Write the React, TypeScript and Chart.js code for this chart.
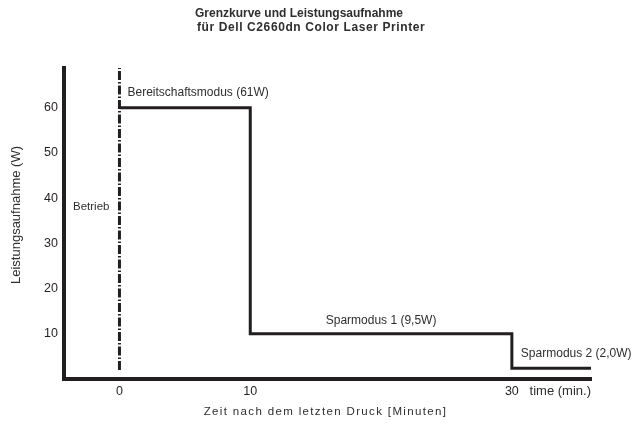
import React, { useEffect, useRef } from "react";
import { Chart, registerables } from "chart.js";

Chart.register(...registerables);

// ---- data ----
const modeStartMinutes = [0, 10, 30];
const modePowerWatts = [60, 10, 2.4];
const curveEndMinute = 36.05;
const operationMinute = 0;
const operationPowerRange = [2, 68.8];
const xTickValues = [0, 10, 30];
const yTickValues = [10, 20, 30, 40, 50, 60];
const xRange = [-4.24, 36.05];
const yRange = [0, 68.8];
const titleLines = ["Grenzkurve und Leistungsaufnahme", "für Dell C2660dn Color Laser Printer"];
const modeLabels = ["Bereitschaftsmodus (61W)", "Sparmodus 1 (9,5W)", "Sparmodus 2 (2,0W)"];
const operationLabel = "Betrieb";
const xUnitLabel = "time (min.)";
const xAxisTitle = "Zeit nach dem letzten Druck [Minuten]";
const yAxisTitle = "Leistungsaufnahme (W)";

const INK = "#231f20";
const TEXT = "#2e2e2e";
const FONT = "'Liberation Sans', Arial, Helvetica, sans-serif";

const textPlugin = {
  id: "textPlugin",
  afterDraw(chart: any) {
    const ctx = chart.ctx as CanvasRenderingContext2D;
    const xs = chart.scales.x;
    const ys = chart.scales.y;
    const area = chart.chartArea;
    ctx.save();
    ctx.fillStyle = TEXT;
    ctx.textBaseline = "middle";

    // title
    ctx.textAlign = "left";
    ctx.font = `bold 12px ${FONT}`;
    (ctx as any).letterSpacing = "0px";
    ctx.fillText(titleLines[0], 195, 14);
    (ctx as any).letterSpacing = "0.6px";
    ctx.fillText(titleLines[1], 197, 28);
    (ctx as any).letterSpacing = "0px";

    // mode labels
    ctx.font = `12px ${FONT}`;
    ctx.textAlign = "left";
    ctx.fillText(modeLabels[0], xs.getPixelForValue(modeStartMinutes[0]) + 8, ys.getPixelForValue(modePowerWatts[0]) - 15);
    ctx.textAlign = "center";
    ctx.fillText(
      modeLabels[1],
      xs.getPixelForValue((modeStartMinutes[1] + modeStartMinutes[2]) / 2),
      ys.getPixelForValue(modePowerWatts[1]) - 13
    );
    ctx.textAlign = "left";
    ctx.fillText(modeLabels[2], xs.getPixelForValue(modeStartMinutes[2]) + 9, ys.getPixelForValue(modePowerWatts[2]) - 14);

    // operation label
    ctx.font = `11.5px ${FONT}`;
    ctx.textAlign = "right";
    ctx.fillText(operationLabel, xs.getPixelForValue(operationMinute) - 10, ys.getPixelForValue(38.1));

    // x unit label
    ctx.font = `13px ${FONT}`;
    ctx.textAlign = "right";
    ctx.fillText(xUnitLabel, area.right, area.bottom + 12);

    // x axis title
    ctx.font = `11.5px ${FONT}`;
    (ctx as any).letterSpacing = "1.35px";
    ctx.textAlign = "center";
    ctx.fillText(xAxisTitle, (area.left + area.right) / 2 - 2, 412);
    (ctx as any).letterSpacing = "0px";

    // y axis title
    ctx.font = `13px ${FONT}`;
    ctx.translate(16, 215);
    ctx.rotate(-Math.PI / 2);
    ctx.textAlign = "center";
    ctx.fillText(yAxisTitle, 0, 0);
    ctx.restore();
  },
};

export default function App() {
  const ref = useRef<HTMLCanvasElement | null>(null);

  useEffect(() => {
    if (!ref.current) return;
    const stepPoints = modeStartMinutes.map((m, i) => ({ x: m, y: modePowerWatts[i] }));
    stepPoints.push({ x: curveEndMinute, y: modePowerWatts[modePowerWatts.length - 1] });
    const operationPoints = operationPowerRange.map((p) => ({ x: operationMinute, y: p }));

    const chart = new Chart(ref.current, {
      type: "line",
      data: {
        datasets: [
          {
            data: stepPoints,
            stepped: "before",
            borderColor: INK,
            borderWidth: 3,
            borderJoinStyle: "miter",
            pointRadius: 0,
            fill: false,
            clip: false as any,
          },
          {
            data: operationPoints,
            borderColor: INK,
            borderWidth: 3,
            borderDash: [9, 2, 1.5, 2],
            borderCapStyle: "butt",
            pointRadius: 0,
            fill: false,
            clip: false as any,
          },
        ],
      },
      options: {
        responsive: false,
        animation: false,
        devicePixelRatio: 1,
        layout: { padding: { top: 68, right: 47, left: 0, bottom: 0 } },
        plugins: {
          legend: { display: false },
          title: { display: false },
          tooltip: { enabled: false },
        },
        scales: {
          x: {
            type: "linear",
            min: xRange[0],
            max: xRange[1],
            grid: { display: false, drawTicks: false },
            border: { display: true, color: INK, width: 4 },
            afterBuildTicks: (s: any) => {
              s.ticks = xTickValues.map((v) => ({ value: v }));
            },
            afterFit: (s: any) => {
              s.height = 45;
            },
            ticks: {
              color: INK,
              padding: 5,
              font: { size: 12.5, family: FONT },
              autoSkip: false,
              maxRotation: 0,
              callback: (v: any) => String(v),
            },
          },
          y: {
            type: "linear",
            min: yRange[0],
            max: yRange[1],
            grid: { display: false, drawTicks: false },
            border: { display: true, color: INK, width: 4 },
            afterBuildTicks: (s: any) => {
              s.ticks = yTickValues.map((v) => ({ value: v }));
            },
            afterFit: (s: any) => {
              s.width = 64;
            },
            ticks: {
              color: INK,
              padding: 6,
              font: { size: 12.5, family: FONT },
              callback: (v: any) => String(v),
            },
          },
        },
      },
      plugins: [textPlugin],
    });
    return () => chart.destroy();
  }, []);

  return (
    <div style={{ position: "fixed", left: 0, top: 0, width: 638, height: 424, background: "#fff" }}>
      <canvas ref={ref} width={638} height={424} style={{ display: "block", width: 638, height: 424 }} />
    </div>
  );
}
